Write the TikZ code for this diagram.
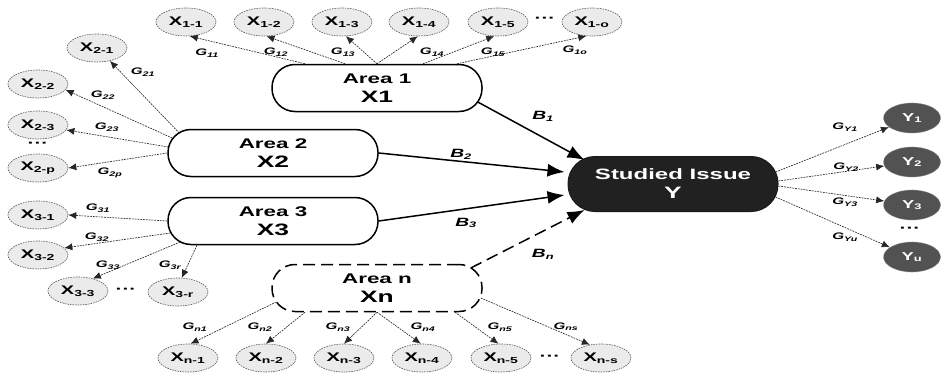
\documentclass[tikz,border=0pt]{standalone}
\usepackage{fontspec}
\setmainfont[FakeStretch=1.6]{Liberation Sans}
\usetikzlibrary{shapes.geometric,arrows.meta,calc}
\begin{document}
\begin{tikzpicture}[x=1pt,y=-1pt,
  area/.style={draw, line width=1.5pt, rounded corners=23pt, minimum width=210pt, minimum height=47pt,
    inner sep=0pt, align=center, font=\bfseries\fontsize{14}{19}\selectfont},
  issue/.style={draw=black!90, fill=black!87, text=white, line width=1pt, rounded corners=27pt,
    minimum width=210pt, minimum height=55pt, inner sep=0pt, align=center, font=\bfseries\fontsize{15}{19}\selectfont},
  xnode/.style={ellipse, draw=black!65, fill=black!8, line width=0.6pt, dash pattern=on 1.6pt off 1pt,
    minimum width=60pt, minimum height=28pt, inner sep=0pt, font=\bfseries\fontsize{12.5}{12}\selectfont},
  ynode/.style={ellipse, draw=black!45, fill=black!68, text=white, line width=0.6pt, dash pattern=on 1.6pt off 1pt,
    minimum width=57pt, minimum height=30pt, inner sep=0pt, font=\bfseries\fontsize{11.5}{12}\selectfont},
  glab/.style={font=\bfseries\itshape\fontsize{9.5}{10}\selectfont, inner sep=0pt},
  blab/.style={font=\bfseries\itshape\fontsize{12}{12}\selectfont, inner sep=0pt},
  dots/.style={font=\bfseries\fontsize{13}{14}\selectfont, inner sep=0pt},
  garrow/.style={-{Latex[length=8pt,width=7pt]}, black!85, line width=0.65pt, dash pattern=on 1.8pt off 1pt},
  barrow/.style={-{Latex[length=17pt,width=13pt]}, line width=1.5pt, black}
]
\useasboundingbox (0,0) rectangle (941,375);

% main nodes
\node[area] (A1) at (377,88) {Area 1\\{\fontsize{16.5}{19}\selectfont X1}};
\node[area] (A2) at (273,153) {Area 2\\{\fontsize{16.5}{19}\selectfont X2}};
\node[area] (A3) at (273,221) {Area 3\\{\fontsize{16.5}{19}\selectfont X3}};
\node[area, dash pattern=on 12pt off 6pt] (An) at (377,288) {Area n\\{\fontsize{16.5}{19}\selectfont Xn}};
\node[issue] (S) at (673,184) {Studied Issue\\{\fontsize{16.5}{19}\selectfont Y}};

% X1 row
\node[xnode] (X11) at (186,22) {X\textsubscript{1-1}};
\node[xnode] (X12) at (264,22) {X\textsubscript{1-2}};
\node[xnode] (X13) at (342,22) {X\textsubscript{1-3}};
\node[xnode] (X14) at (419,22) {X\textsubscript{1-4}};
\node[xnode] (X15) at (498,22) {X\textsubscript{1-5}};
\node[xnode] (X1o) at (592,22) {X\textsubscript{1-o}};
\node[dots] (d1) at (545,20) {···};

% X2 column
\node[xnode] (X21) at (97,48) {X\textsubscript{2-1}};
\node[xnode] (X22) at (38,84) {X\textsubscript{2-2}};
\node[xnode] (X23) at (38,125) {X\textsubscript{2-3}};
\node[xnode] (X2p) at (38,168) {X\textsubscript{2-p}};
\node[dots] (d2) at (38,145) {···};

% X3 group
\node[xnode] (X31) at (38,215) {X\textsubscript{3-1}};
\node[xnode] (X32) at (38,255) {X\textsubscript{3-2}};
\node[xnode] (X33) at (78,291) {X\textsubscript{3-3}};
\node[xnode] (X3r) at (178,292) {X\textsubscript{3-r}};
\node[dots] (d3) at (126,291) {···};

% Xn row
\node[xnode] (Xn1) at (188,358) {X\textsubscript{n-1}};
\node[xnode] (Xn2) at (266,358) {X\textsubscript{n-2}};
\node[xnode] (Xn3) at (344,358) {X\textsubscript{n-3}};
\node[xnode] (Xn4) at (422,358) {X\textsubscript{n-4}};
\node[xnode] (Xn5) at (501,358) {X\textsubscript{n-5}};
\node[xnode] (Xns) at (601,358) {X\textsubscript{n-s}};
\node[dots] (dn) at (550,358) {···};

% Y column
\node[ynode] (Y1) at (912,118) {Y\textsubscript{1}};
\node[ynode] (Y2) at (912,162) {Y\textsubscript{2}};
\node[ynode] (Y3) at (912,205) {Y\textsubscript{3}};
\node[ynode] (Yu) at (912,257) {Y\textsubscript{u}};
\node[dots] (dy) at (910,230) {···};

% B arrows
\draw[barrow] ($(A1.east)+(-5,14)$) -- ($(S.west)+(17,-24)$);
\draw[barrow] (A2.east) -- ($(S.west)+(-3,-12)$);
\draw[barrow] (A3.east) -- ($(S.west)+(-3,11)$);
\draw[barrow, dash pattern=on 12pt off 6pt] ($(An.east)+(-12,-20)$) -- ($(S.west)+(17,26)$);
\node[blab] (B1) at (543,116) {B\textsubscript{1}};
\node[blab] (B2) at (461,154) {B\textsubscript{2}};
\node[blab] (B3) at (466,223) {B\textsubscript{3}};
\node[blab] (Bn) at (543,254) {B\textsubscript{n}};

% X1 arrows
\draw[garrow] ($(A1.north)+(-72,0)$) -- (X11.-75);
\draw[garrow] ($(A1.north)+(-32,0)$) -- (X12.-80);
\draw[garrow] (A1.north) -- (X13.-75);
\draw[garrow] (A1.north) -- (X14.-95);
\draw[garrow] ($(A1.north)+(46,0)$) -- (X15.-105);
\draw[garrow] ($(A1.north)+(80,0)$) -- (X1o.-112);
\node[glab] (G11) at (207,53) {G\textsubscript{11}};
\node[glab] (G12) at (276,52) {G\textsubscript{12}};
\node[glab] (G13) at (343,52) {G\textsubscript{13}};
\node[glab] (G14) at (432,52) {G\textsubscript{14}};
\node[glab] (G15) at (493,52) {G\textsubscript{15}};
\node[glab] (G1o) at (575,50) {G\textsubscript{1o}};

% X2 arrows
\draw[garrow] ($(A2.west)+(12,-20)$) -- (X21.-45);
\draw[garrow] ($(A2.west)+(5,-15)$) -- (X22.-12);
\draw[garrow] ($(A2.west)+(1,-6)$) -- (X23.-10);
\draw[garrow] (A2.west) -- (X2p.east);
\node[glab] (G21) at (143,72) {G\textsubscript{21}};
\node[glab] (G22) at (103,95) {G\textsubscript{22}};
\node[glab] (G23) at (107,127) {G\textsubscript{23}};
\node[glab] (G2p) at (110,173) {G\textsubscript{2p}};

% X3 arrows
\draw[garrow] (A3.west) -- (X31.east);
\draw[garrow] ($(A3.west)+(3,12)$) -- (X32.15);
\draw[garrow] ($(A3.west)+(13,21)$) -- (X33.40);
\draw[garrow] ($(A3.south)+(-76,0)$) -- (X3r.75);
\node[glab] (G31) at (98,208) {G\textsubscript{31}};
\node[glab] (G32) at (97,237) {G\textsubscript{32}};
\node[glab] (G33) at (108,265) {G\textsubscript{33}};
\node[glab] (G3r) at (170,265) {G\textsubscript{3r}};

% Xn arrows
\draw[garrow] ($(An.west)+(5,14)$) -- (Xn1.80);
\draw[garrow] ($(An.south)+(-72,0)$) -- (Xn2.90);
\draw[garrow] (An.south) -- (Xn3.90);
\draw[garrow] (An.south) -- (Xn4.95);
\draw[garrow] ($(An.south)+(78,0)$) -- (Xn5.100);
\draw[garrow] ($(An.east)+(-2,10)$) -- (Xns.130);
\node[glab] (Gn1) at (195,327) {G\textsubscript{n1}};
\node[glab] (Gn2) at (260,327) {G\textsubscript{n2}};
\node[glab] (Gn3) at (338,327) {G\textsubscript{n3}};
\node[glab] (Gn4) at (423,327) {G\textsubscript{n4}};
\node[glab] (Gn5) at (500,327) {G\textsubscript{n5}};
\node[glab] (Gns) at (566,327) {G\textsubscript{ns}};

% Y arrows
\draw[garrow] ($(S.east)+(-3,-12)$) -- (Y1);
\draw[garrow] ($(S.east)+(0,-3)$) -- (Y2);
\draw[garrow] ($(S.east)+(0,2)$) -- (Y3);
\draw[garrow] ($(S.east)+(-3,13)$) -- (Yu);
\node[glab] (GY1) at (845,127) {G\textsubscript{Y1}};
\node[glab] (GY2) at (846,167) {G\textsubscript{Y2}};
\node[glab] (GY3) at (845,202) {G\textsubscript{Y3}};
\node[glab] (GYu) at (845,237) {G\textsubscript{Yu}};
\end{tikzpicture}
\end{document}
